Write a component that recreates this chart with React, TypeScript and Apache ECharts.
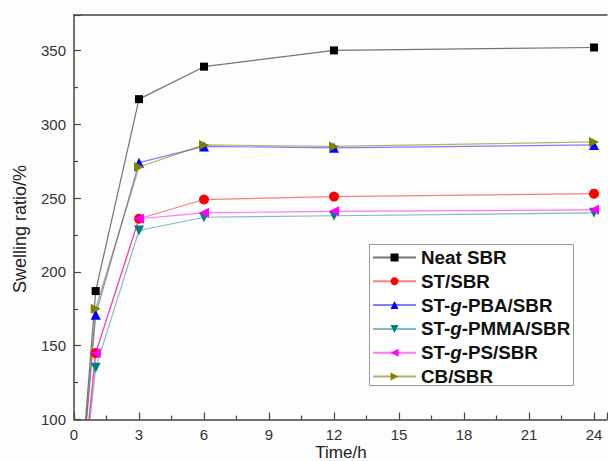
import React, { useEffect, useRef } from "react";
import * as echarts from "echarts";

const times = [0, 1, 3, 6, 12, 24];
const neatSBR = [0, 187, 317, 339, 350, 352];
const stSBR = [0, 145, 236, 249, 251, 253];
const pbaSBR = [0, 171, 274, 285, 284, 286];
const pmmaSBR = [0, 135, 228, 237, 238, 240];
const psSBR = [0, 145, 236, 240, 241, 242];
const cbSBR = [0, 175, 271, 286, 285, 288];

const seriesDefs = [
  { name: "Neat SBR", values: neatSBR, color: "#000000", line: "rgba(0,0,0,0.55)", symbol: "rect", size: 8, rotate: 0 },
  { name: "ST/SBR", values: stSBR, color: "#ff0000", line: "rgba(255,0,0,0.5)", symbol: "circle", size: 10, rotate: 0 },
  { name: "ST-g-PBA/SBR", values: pbaSBR, color: "#0000ff", line: "rgba(0,0,255,0.5)", symbol: "triangle", size: 10, rotate: 0 },
  { name: "ST-g-PMMA/SBR", values: pmmaSBR, color: "#008080", line: "rgba(0,128,128,0.5)", symbol: "triangle", size: 10, rotate: 180 },
  { name: "ST-g-PS/SBR", values: psSBR, color: "#ff00ff", line: "rgba(255,0,255,0.55)", symbol: "triangle", size: 10, rotate: 90 },
  { name: "CB/SBR", values: cbSBR, color: "#808000", line: "rgba(128,128,0,0.6)", symbol: "triangle", size: 10, rotate: -90 },
];

const FONT = "Liberation Sans, Arial, sans-serif";
const LFS = 18.8;

const legendRich = {
  b: { fontWeight: "bold", fontSize: LFS, lineHeight: 18, fontFamily: FONT, color: "#111" },
  i: { fontWeight: "bold", fontStyle: "italic", fontSize: LFS, lineHeight: 18, fontFamily: FONT, color: "#111" },
};

function legendFormatter(name: string) {
  if (name.indexOf("-g-") >= 0) {
    const parts = name.split("-g-");
    return "{b|" + parts[0] + "-}{i|g}{b|-" + parts[1] + "}";
  }
  return "{b|" + name + "}";
}

export default function App() {
  const ref = useRef<HTMLDivElement>(null);
  useEffect(() => {
    if (!ref.current) return;
    const chart = echarts.init(ref.current, null, { renderer: "svg" });
    const axisColor = "#444";
    const labelFont = { fontFamily: FONT, fontSize: 15, color: "#333" };
    chart.setOption({
      animation: false,
      backgroundColor: "#fdfdfd",
      grid: { left: 74, top: 15, width: 533, height: 404.5 },
      xAxis: [
        {
          type: "value",
          min: 0,
          max: 24.6,
          interval: 3,
          axisLine: { show: true, lineStyle: { color: axisColor, width: 1.5 } },
          axisTick: { show: true, inside: true, length: 7, lineStyle: { color: axisColor, width: 1.2 } },
          minorTick: { show: true, splitNumber: 2, length: 4, lineStyle: { color: axisColor, width: 1.2 } },
          splitLine: { show: false },
          axisLabel: { ...labelFont, margin: 7, showMaxLabel: false },
        },
        {
          type: "value",
          position: "top",
          min: 0,
          max: 24.6,
          interval: 3,
          axisLine: { show: true, onZero: false, lineStyle: { color: axisColor, width: 1.5 } },
          axisTick: { show: false },
          axisLabel: { show: false },
          splitLine: { show: false },
        },
      ],
      yAxis: {
        type: "value",
        min: 100,
        max: 374,
        interval: 50,
        axisLine: { show: true, lineStyle: { color: axisColor, width: 1.5 } },
        axisTick: { show: true, inside: true, length: 7, lineStyle: { color: axisColor, width: 1.2 } },
        minorTick: { show: true, splitNumber: 2, length: 4, lineStyle: { color: axisColor, width: 1.2 } },
        splitLine: { show: false },
        axisLabel: { ...labelFont, margin: 8, showMaxLabel: false },
      },
      legend: {
        orient: "vertical",
        left: 369,
        top: 244,
        padding: [4, 1, 0, 3],
        itemWidth: 43,
        itemHeight: 10,
        itemGap: 4.8,
        selectedMode: false,
        formatter: legendFormatter,
        textStyle: { fontSize: LFS, lineHeight: 18, rich: legendRich },
        data: seriesDefs.map((s) => s.name),
        z: 5,
      },
      graphic: [
        {
          type: "rect",
          z: 3,
          shape: { x: 369.5, y: 244.5, width: 204, height: 141 },
          style: { fill: "#ffffff", stroke: "#999", lineWidth: 1 },
        },
        {
          type: "text",
          x: 20,
          y: 229,
          rotation: Math.PI / 2,
          style: {
            text: "Swelling ratio/%",
            fontSize: 18,
            fontFamily: FONT,
            fill: "#222",
            align: "center",
            verticalAlign: "middle",
          },
        },
        {
          type: "text",
          x: 341,
          y: 444,
          style: {
            text: "Time/h",
            fontSize: 17,
            fontFamily: FONT,
            fill: "#222",
            align: "center",
            verticalAlign: "top",
          },
        },
      ],
      series: seriesDefs.map((s) => ({
        name: s.name,
        type: "line",
        xAxisIndex: 0,
        clip: true,
        symbol: s.symbol,
        symbolSize: s.size,
        symbolRotate: s.rotate,
        itemStyle: { color: s.color },
        lineStyle: { color: s.line, width: 1.2 },
        data: times.map((t, i) =>
          i === 0 ? { value: [t, s.values[i]], symbol: "none" } : [t, s.values[i]]
        ),
      })),
    });
    return () => chart.dispose();
  }, []);
  return (
    <div
      ref={ref}
      style={{ position: "absolute", left: 0, top: 0, width: 608, height: 461 }}
    />
  );
}
